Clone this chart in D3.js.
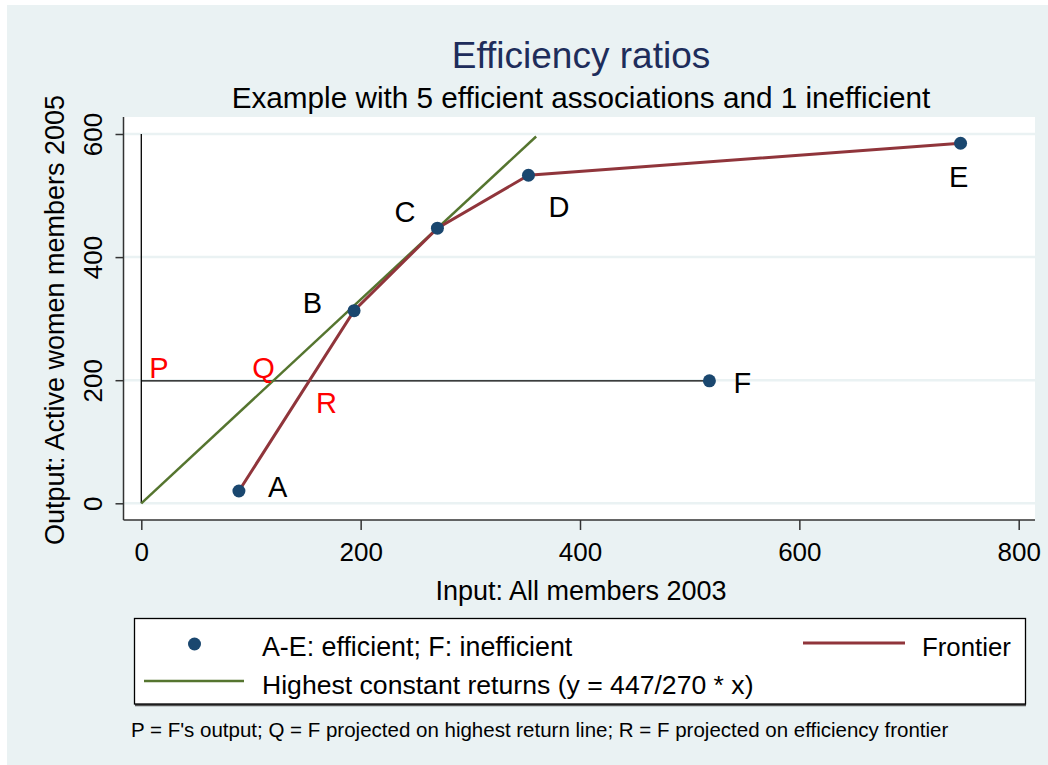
<!DOCTYPE html>
<html>
<head>
<meta charset="utf-8">
<script src="https://cdn.jsdelivr.net/npm/d3@7"></script>
<style>
  body { margin: 0; background: #fff; }
  text { font-family: "Liberation Sans", Arial, sans-serif; }
</style>
</head>
<body>
<div id="chart"></div>
<script>
// data
const names = ["A", "B", "C", "D", "E", "F"];
const inputs = [89, 194, 270, 353, 747, 518];     // all members 2003
const outputs = [20, 313, 447, 533, 585, 199];    // active women members 2005
const frontierNames = ["A", "B", "C", "D", "E"];
const crsX = [0, 360];                            // y = 447/270 * x
const crsY = [0, 596];
const projNames = ["P", "Q", "R"];
const projX = [0, 120, 153];
const projY = [199, 199, 199];
const xTicks = [0, 200, 400, 600, 800];
const yTicks = [0, 200, 400, 600];

// label placement (pixels, like Stata mlabposition)
const labelStyle = {
  A: {dx: 29, dy: 6, anchor: "start"},
  B: {dx: -32, dy: 2, anchor: "end"},
  C: {dx: -22, dy: -6, anchor: "end"},
  D: {dx: 20, dy: 42, anchor: "start"},
  E: {dx: -2, dy: 44, anchor: "middle"},
  F: {dx: 24, dy: 12, anchor: "start"},
  P: {dx: 8, dy: -3, anchor: "start"},
  Q: {dx: 2, dy: -3, anchor: "end"},
  R: {dx: 7, dy: 32, anchor: "start"}
};

const W = 1048, H = 765;
const navy = "#1a476f", maroon = "#90353b", green = "#55752f", bg = "#eaf2f3";

const svg = d3.select("#chart").append("svg")
    .attr("width", W)
    .attr("height", H);

svg.append("rect")
    .attr("x", 7).attr("y", 5)
    .attr("width", W - 7).attr("height", H - 5)
    .attr("fill", bg);

const x = d3.scaleLinear().domain([0, 800]).range([141.3, 1018.7]);
const y = d3.scaleLinear().domain([0, 600]).range([503.3, 134]);

const plot = {left: 123.5, right: 1035, top: 117, bottom: 520};

svg.append("rect")
    .attr("x", plot.left).attr("y", plot.top)
    .attr("width", plot.right - plot.left)
    .attr("height", plot.bottom - plot.top)
    .attr("fill", "#fff");

// grid
svg.append("g")
    .selectAll("line")
    .data(yTicks)
    .join("line")
    .attr("x1", plot.left).attr("x2", plot.right)
    .attr("y1", d => y(d)).attr("y2", d => y(d))
    .attr("stroke", bg)
    .attr("stroke-width", 2.5);

// axes
const xAxis = svg.append("g")
    .attr("transform", `translate(0,${plot.bottom})`)
    .call(d3.axisBottom(x).tickValues(xTicks).tickSize(10).tickPadding(13).tickFormat(d3.format("d")));
xAxis.select(".domain").attr("d", `M${plot.left},0H${plot.right}`);

const yAxis = svg.append("g")
    .attr("transform", `translate(${plot.left},0)`)
    .call(d3.axisLeft(y).tickValues(yTicks).tickSize(8).tickFormat(d3.format("d")));
yAxis.select(".domain").attr("d", `M0,${plot.top}V${plot.bottom}`);
yAxis.selectAll(".tick text")
    .attr("x", null).attr("dy", null)
    .attr("text-anchor", "middle")
    .attr("transform", "translate(-21.5,0) rotate(-90)");

[xAxis, yAxis].forEach(a => {
  a.selectAll(".domain, .tick line").attr("stroke", "#333").attr("stroke-width", 1.5);
  a.selectAll(".tick text").attr("fill", "#000").style("font-size", "26px")
      .style("font-family", "'Liberation Sans', Arial, sans-serif");
});
xAxis.selectAll(".tick text").attr("dy", "0.71em");

// reference lines: x = 0 and F's output
svg.append("line")
    .attr("x1", x(0)).attr("x2", x(0))
    .attr("y1", y(0)).attr("y2", y(600))
    .attr("stroke", "#000").attr("stroke-width", 1.3);
const fi = names.indexOf("F");
svg.append("line")
    .attr("x1", x(0)).attr("x2", x(inputs[fi]))
    .attr("y1", y(outputs[fi])).attr("y2", y(outputs[fi]))
    .attr("stroke", "#000").attr("stroke-width", 1.3);

// highest constant returns line
svg.append("path")
    .datum(crsX.map((v, i) => [v, crsY[i]]))
    .attr("d", d3.line().x(d => x(d[0])).y(d => y(d[1])))
    .attr("fill", "none")
    .attr("stroke", green)
    .attr("stroke-width", 2.5);

// frontier
const frontier = frontierNames.map(n => {
  const i = names.indexOf(n);
  return [inputs[i], outputs[i]];
});
svg.append("path")
    .datum(frontier)
    .attr("d", d3.line().x(d => x(d[0])).y(d => y(d[1])))
    .attr("fill", "none")
    .attr("stroke", maroon)
    .attr("stroke-width", 3);

// points
svg.append("g")
    .selectAll("circle")
    .data(names)
    .join("circle")
    .attr("cx", (d, i) => x(inputs[i]))
    .attr("cy", (d, i) => y(outputs[i]))
    .attr("r", 6.5)
    .attr("fill", navy);

svg.append("g")
    .selectAll("text")
    .data(names)
    .join("text")
    .attr("x", (d, i) => x(inputs[i]) + labelStyle[d].dx)
    .attr("y", (d, i) => y(outputs[i]) + labelStyle[d].dy)
    .attr("text-anchor", d => labelStyle[d].anchor)
    .style("font-size", "29px")
    .text(d => d);

svg.append("g")
    .selectAll("text")
    .data(projNames)
    .join("text")
    .attr("x", (d, i) => x(projX[i]) + labelStyle[d].dx)
    .attr("y", (d, i) => y(projY[i]) + labelStyle[d].dy)
    .attr("text-anchor", d => labelStyle[d].anchor)
    .attr("fill", "#ff0000")
    .style("font-size", "29px")
    .text(d => d);

// titles
svg.append("text")
    .attr("x", 581).attr("y", 68)
    .attr("text-anchor", "middle")
    .attr("fill", "#1e2d5b")
    .style("font-size", "37px")
    .text("Efficiency ratios");

svg.append("text")
    .attr("x", 581).attr("y", 108)
    .attr("text-anchor", "middle")
    .style("font-size", "29.7px")
    .text("Example with 5 efficient associations and 1 inefficient");

svg.append("text")
    .attr("x", 581).attr("y", 600)
    .attr("text-anchor", "middle")
    .style("font-size", "27px")
    .text("Input: All members 2003");

svg.append("text")
    .attr("transform", "translate(64,320) rotate(-90)")
    .attr("text-anchor", "middle")
    .style("font-size", "27px")
    .text("Output:  Active women members 2005");

// legend
const lg = svg.append("g");
lg.append("line")
    .attr("x1", 135).attr("x2", 1026)
    .attr("y1", 705).attr("y2", 705)
    .attr("stroke", "#555").attr("stroke-width", 2.5);
lg.append("rect")
    .attr("x", 134.5).attr("y", 618.5)
    .attr("width", 891).attr("height", 85.5)
    .attr("fill", "#fff")
    .attr("stroke", "#000").attr("stroke-width", 1.3);
lg.append("circle")
    .attr("cx", 194.5).attr("cy", 644).attr("r", 6.5).attr("fill", navy);
lg.append("text")
    .attr("x", 262).attr("y", 656)
    .style("font-size", "26.8px")
    .text("A-E: efficient; F: inefficient");
lg.append("line")
    .attr("x1", 803).attr("x2", 905).attr("y1", 643).attr("y2", 643)
    .attr("stroke", maroon).attr("stroke-width", 3);
lg.append("text")
    .attr("x", 922).attr("y", 656)
    .style("font-size", "25.8px")
    .text("Frontier");
lg.append("line")
    .attr("x1", 144).attr("x2", 244).attr("y1", 681).attr("y2", 681)
    .attr("stroke", green).attr("stroke-width", 2.5);
lg.append("text")
    .attr("x", 262).attr("y", 693.5)
    .style("font-size", "26.6px")
    .text("Highest constant returns (y = 447/270 * x)");

svg.append("text")
    .attr("x", 131).attr("y", 737)
    .style("font-size", "20.5px")
    .text("P = F's output; Q = F projected on highest return line; R = F projected on efficiency frontier");
</script>
</body>
</html>
